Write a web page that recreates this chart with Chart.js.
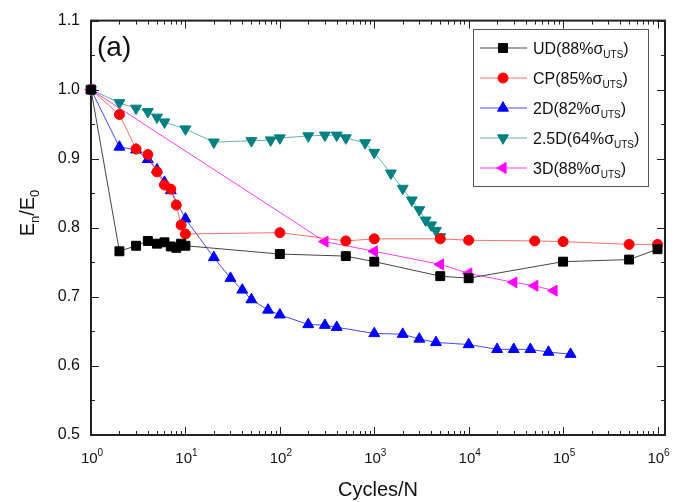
<!DOCTYPE html>
<html>
<head>
<meta charset="utf-8">
<script src="https://cdn.jsdelivr.net/npm/chart.js@4.4.0/dist/chart.umd.min.js"></script>
<style>
	html, body { margin: 0; padding: 0; background: #fff; }
</style>
</head>
<body>
<canvas id="chart" width="686" height="502"></canvas>
<script>
// --- data ---
var udX = [1, 2, 3, 4, 5, 6, 7, 8, 9, 10, 100, 500, 1000, 5000, 10000, 100000, 500000, 1000000];
var udY = [1.0, 0.766, 0.774, 0.781, 0.777, 0.779, 0.773, 0.771, 0.777, 0.774, 0.762, 0.759, 0.751, 0.730, 0.727, 0.751, 0.754, 0.769];

var cpX = [1, 2, 3, 4, 5, 6, 7, 8, 9, 10, 100, 500, 1000, 5000, 10000, 50000, 100000, 500000, 1000000];
var cpY = [1.0, 0.964, 0.914, 0.906, 0.881, 0.862, 0.856, 0.833, 0.804, 0.791, 0.793, 0.781, 0.784, 0.784, 0.782, 0.781, 0.780, 0.776, 0.776];

var twoDX = [1, 2, 3, 4, 5, 6, 7, 10, 20, 30, 40, 50, 75, 100, 200, 300, 400, 1000, 2000, 3000, 4500, 10000, 20000, 30000, 45000, 70000, 120000];
var twoDY = [1.0, 0.917, 0.913, 0.899, 0.884, 0.866, 0.854, 0.813, 0.757, 0.727, 0.710, 0.696, 0.681, 0.674, 0.660, 0.659, 0.656, 0.647, 0.646, 0.639, 0.634, 0.631, 0.624, 0.624, 0.624, 0.620, 0.617];

var halfDX = [1, 2, 3, 4, 5, 6, 10, 20, 50, 80, 100, 200, 300, 400, 500, 800, 1000, 1500, 2000, 2500, 3000, 3500, 4000, 4500, 5000];
var halfDY = [1.0, 0.981, 0.973, 0.968, 0.960, 0.953, 0.943, 0.924, 0.926, 0.927, 0.930, 0.933, 0.934, 0.934, 0.930, 0.923, 0.909, 0.879, 0.857, 0.840, 0.826, 0.811, 0.804, 0.796, 0.787];

var threeDX = [1, 300, 1000, 5000, 10000, 30000, 50000, 80000];
var threeDY = [1.0, 0.780, 0.766, 0.747, 0.734, 0.721, 0.716, 0.709];

var seriesNames = ['UD', 'CP', '2D', '2.5D', '3D'];
var seriesPct = ['88', '85', '82', '64', '88'];

var xMajor = [1, 10, 100, 1000, 10000, 100000, 1000000];
var yTicks = [0.5, 0.6, 0.7, 0.8, 0.9, 1.0, 1.1];

var FONT = "'Liberation Sans', Arial, Helvetica, sans-serif";

function pts(xs, ys) {
	return xs.map(function (x, i) { return {x: x, y: ys[i]}; });
}

function series(i, xs, ys, color, lineColor, style, rot, r) {
	return {
		label: seriesNames[i] + '(' + seriesPct[i] + '%σUTS)',
		data: pts(xs, ys),
		borderColor: lineColor,
		backgroundColor: color,
		pointBackgroundColor: color,
		pointBorderColor: color,
		pointBorderWidth: 1,
		pointStyle: style,
		pointRotation: rot,
		pointRadius: r,
		pointHoverRadius: r,
		borderWidth: 1,
		tension: 0,
		fill: false,
		clip: false
	};
}

var datasets = [
	series(0, udX, udY, '#000000', '#444444', 'rect', 0, 6.3),
	series(1, cpX, cpY, '#ff0000', 'rgba(255,60,60,0.75)', 'circle', 0, 5),
	series(2, twoDX, twoDY, '#0000ff', 'rgba(40,40,255,0.85)', 'triangle', 0, 6.3),
	series(3, halfDX, halfDY, '#008080', 'rgba(60,160,160,0.8)', 'triangle', 180, 6.3),
	series(4, threeDX, threeDY, '#ff00ff', 'rgba(255,40,255,0.9)', 'triangle', 270, 6.3)
];

// draw a run of text pieces [text, size, dy]
function richWidth(ctx, parts) {
	var w = 0;
	parts.forEach(function (p) {
		ctx.font = p[1] + 'px ' + FONT;
		w += ctx.measureText(p[0]).width;
	});
	return w;
}
function richText(ctx, parts, x, y) {
	parts.forEach(function (p) {
		ctx.font = p[1] + 'px ' + FONT;
		ctx.fillText(p[0], x, y + p[2]);
		x += ctx.measureText(p[0]).width;
	});
}

function seg(ctx, x1, y1, x2, y2) {
	ctx.beginPath();
	ctx.moveTo(x1, y1);
	ctx.lineTo(x2, y2);
	ctx.stroke();
}

var framePlugin = {
	id: 'frame',
	beforeDatasetsDraw: function (chart) {
		var ctx = chart.ctx, a = chart.chartArea;
		var xs = chart.scales.x, ys = chart.scales.y;
		ctx.save();
		ctx.strokeStyle = '#222';
		ctx.lineWidth = 1;
		// x ticks, inward, bottom and top
		xMajor.forEach(function (v) {
			var px = Math.round(xs.getPixelForValue(v)) + 0.5;
			seg(ctx, px, a.bottom, px, a.bottom - 8);
			seg(ctx, px, a.top, px, a.top + 8);
			if (v < 1000000) {
				for (var k = 2; k <= 9; k++) {
					var mx = Math.round(xs.getPixelForValue(v * k)) + 0.5;
					seg(ctx, mx, a.bottom, mx, a.bottom - 4);
					seg(ctx, mx, a.top, mx, a.top + 4);
				}
			}
		});
		// y ticks, inward, left and right
		yTicks.forEach(function (v, i) {
			var py = Math.round(ys.getPixelForValue(v)) + 0.5;
			seg(ctx, a.left, py, a.left + 8, py);
			seg(ctx, a.right, py, a.right - 8, py);
			if (i < yTicks.length - 1) {
				var my = Math.round(ys.getPixelForValue((v + yTicks[i + 1]) / 2)) + 0.5;
				seg(ctx, a.left, my, a.left + 4, my);
				seg(ctx, a.right, my, a.right - 4, my);
			}
		});
		ctx.lineWidth = 2;
		ctx.strokeRect(a.left, a.top, a.right - a.left, a.bottom - a.top);
		ctx.restore();
	},
	afterDraw: function (chart) {
		var ctx = chart.ctx, a = chart.chartArea;
		var xs = chart.scales.x;
		ctx.save();
		ctx.fillStyle = '#111';
		ctx.textBaseline = 'alphabetic';
		ctx.textAlign = 'left';

		// x tick labels 10^n
		xMajor.forEach(function (v) {
			var n = String(Math.round(Math.log10(v)));
			var parts = [['10', 15, 0], [n, 10, -7]];
			var w = richWidth(ctx, parts);
			var px = xs.getPixelForValue(v);
			richText(ctx, parts, px - w / 2 + 1, a.bottom + 28);
		});

		// axis titles
		ctx.font = '20px ' + FONT;
		ctx.textAlign = 'center';
		ctx.fillText('Cycles/N', (a.left + a.right) / 2, 496);
		ctx.textAlign = 'left';

		var yt = [['E', 20, 0], ['n', 13, 5], ['/E', 20, 0], ['0', 13, 5]];
		ctx.save();
		ctx.translate(34, 213);
		ctx.rotate(-Math.PI / 2);
		richText(ctx, yt, -richWidth(ctx, yt) / 2, 0);
		ctx.restore();

		// panel label
		ctx.font = '28px ' + FONT;
		ctx.fillText('(a)', a.left + 6, a.top + 35);

		// legend
		var lx = 473, ly = 29, lw = 175, lh = 157;
		ctx.fillStyle = '#fff';
		ctx.fillRect(lx, ly, lw, lh);
		ctx.strokeStyle = '#555';
		ctx.lineWidth = 1;
		ctx.strokeRect(lx + 0.5, ly + 0.5, lw, lh);
		chart.data.datasets.forEach(function (ds, i) {
			var cy = ly + 19 + i * 30;
			ctx.strokeStyle = ds.borderColor;
			ctx.lineWidth = 1;
			seg(ctx, lx + 7, cy, lx + 54, cy);
			ctx.fillStyle = ds.pointBackgroundColor;
			ctx.strokeStyle = ds.pointBorderColor;
			Chart.helpers.drawPoint(ctx, {
				pointStyle: ds.pointStyle,
				rotation: ds.pointRotation,
				radius: ds.pointRadius,
				borderWidth: 1
			}, lx + 30, cy);
			ctx.fillStyle = '#111';
			richText(ctx, [
				[seriesNames[i] + '(' + seriesPct[i] + '%σ', 16, 0],
				['UTS', 10, 4],
				[')', 16, 0]
			], lx + 60, cy + 6);
		});
		ctx.restore();
	}
};

var ctx = document.getElementById('chart').getContext('2d');
new Chart(ctx, {
	type: 'line',
	data: {datasets: datasets},
	options: {
		responsive: false,
		animation: false,
		devicePixelRatio: 1,
		layout: {padding: {left: 0, right: 21, top: 16, bottom: 0}},
		plugins: {
			legend: {display: false},
			tooltip: {enabled: false}
		},
		scales: {
			x: {
				type: 'logarithmic',
				min: 1,
				max: 1200000,
				grid: {display: false},
				border: {display: false},
				ticks: {display: false},
				afterBuildTicks: function (scale) {
					scale.ticks = xMajor.map(function (v) { return {value: v}; });
				},
				afterFit: function (scale) { scale.height = 67; }
			},
			y: {
				type: 'linear',
				min: 0.5,
				max: 1.1,
				grid: {display: false, drawTicks: false},
				border: {display: false},
				ticks: {
					padding: 11,
					color: '#111',
					font: {family: FONT, size: 16},
					callback: function (v) { return Number(v).toFixed(1); }
				},
				afterBuildTicks: function (scale) {
					scale.ticks = yTicks.map(function (v) { return {value: v}; });
				},
				afterFit: function (scale) { scale.width = 91; }
			}
		}
	},
	plugins: [framePlugin]
});
</script>
</body>
</html>
